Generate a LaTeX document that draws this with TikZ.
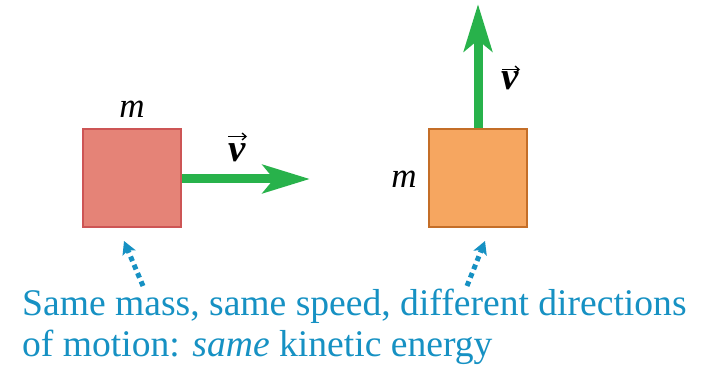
\documentclass[tikz,border=0pt]{standalone}
\usepackage{fontspec}
\setmainfont{Liberation Serif}
\usetikzlibrary{arrows.meta}
\definecolor{capblue}{RGB}{22,145,195}
\definecolor{vgreen}{RGB}{40,178,75}
\definecolor{boxred}{RGB}{229,131,119}
\definecolor{boxredline}{RGB}{205,85,85}
\definecolor{boxorange}{RGB}{246,166,96}
\definecolor{boxorangeline}{RGB}{196,110,40}
\tikzset{
  massbox/.style={minimum size=98pt, inner sep=0pt, line width=2pt},
  velarrow/.style={draw=vgreen, line width=9pt, -{Stealth[length=47pt,width=28pt,inset=11pt]}},
  pointer/.style={draw=capblue, line width=5pt, dash pattern=on 5pt off 4pt, -{Stealth[length=13pt,width=14pt,inset=3pt]}},
  lbl/.style={inner sep=0pt, font=\fontsize{35}{40}\selectfont},
  vlbl/.style={inner sep=0pt, font=\fontsize{39}{44}\selectfont\bfseries\itshape},
  vecmark/.style={draw=black, line width=1.3pt, -{Straight Barb[length=4pt,width=7pt]}},
  caption/.style={inner sep=0pt, anchor=base west, text=capblue, font=\fontsize{37.6}{40}\selectfont}
}
\begin{document}
\begin{tikzpicture}[x=1pt,y=-1pt]
\useasboundingbox (0,0) rectangle (704,371);
% boxes
\node[massbox, draw=boxredline, fill=boxred] (A) at (132,178) {};
\node[massbox, draw=boxorangeline, fill=boxorange] (B) at (478,178) {};
% velocity arrows
\coordinate (tipA) at (310,179);
\coordinate (tipB) at (478,4);
\draw[velarrow] (A.east |- tipA) -- (tipA);
\draw[velarrow] (B.north) -- (tipB);
% labels
\node[lbl, anchor=base] (mA) at (132,118) {\textit{m}};
\node[lbl, anchor=base] (mB) at (404,188) {\textit{m}};
\node[vlbl, anchor=base] (vA) at (237,162) {v};
\node[vlbl, anchor=base] (vB) at (510,90) {v};
\draw[vecmark] ([xshift=-9pt,yshift=25.5pt]vA.base) -- ([xshift=10pt,yshift=25.5pt]vA.base);
\draw[vecmark] ([xshift=-8pt,yshift=20.5pt]vB.base) -- ([xshift=10pt,yshift=20.5pt]vB.base);
% caption
\node[caption] (c1) at (22,316) {Same mass, same speed, different directions};
\node[caption] (c2) at (22,356) {of motion: \textit{same} kinetic energy};
% pointers
\coordinate (pA0) at (143,286);
\coordinate (pA1) at (124,241);
\coordinate (pB0) at (467,286);
\coordinate (pB1) at (485,241);
\draw[pointer] (pA0) -- (pA1);
\draw[pointer] (pB0) -- (pB1);
\end{tikzpicture}
\end{document}
